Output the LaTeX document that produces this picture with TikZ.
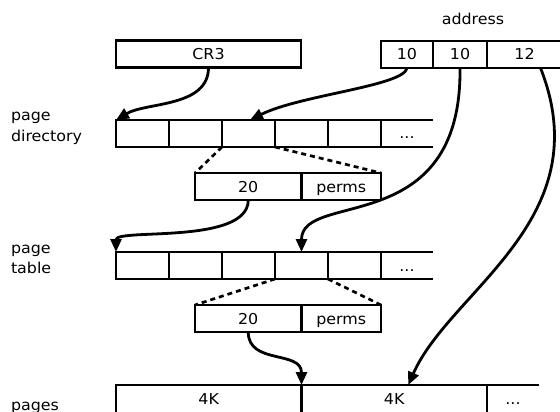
\documentclass[tikz,border=0pt]{standalone}
\usepackage{fontspec}
\setmainfont[FakeStretch=1.06]{DejaVu Sans}
\usetikzlibrary{arrows.meta}
\begin{document}
\begin{tikzpicture}[x=1pt,y=-1pt,
  font=\fontsize{15}{18}\selectfont,
  every node/.style={inner sep=0pt,outer sep=0pt},
  cell/.style={draw,line width=2.9pt,minimum width=53pt,minimum height=27pt,text height=11pt,text depth=0pt},
  opencell/.style={minimum width=52pt,minimum height=27pt,text height=11pt,text depth=0pt},
  hline/.style={line width=2.9pt},
  conn/.style={line width=2.8pt,-{Triangle[length=13pt,width=11pt]}},
  dashline/.style={line width=2.7pt,dash pattern=on 5pt off 4pt},
  lbl/.style={anchor=base west}]
\useasboundingbox (0,0) rectangle (560,412);
\clip (0,0) rectangle (560,412);
\fill[white] (0,0) rectangle (560,412);

% labels
\node (addr) at (473,19) {address};
\node[lbl] (pdl1) at (11,121) {page};
\node[lbl] (pdl2) at (11,141.5) {directory};
\node[lbl] (ptl1) at (11,253) {page};
\node[lbl] (ptl2) at (11,273.5) {table};
\node[lbl] (pgl) at (11,410.5) {pages};

% CR3 and address
\node[cell,minimum width=185pt] (cr3) at (208.5,54) {CR3};
\node[cell,minimum width=52pt] (a1) at (407,54.5) {10};
\node[cell,minimum width=54pt] (a2) at (460,54.5) {10};
\node[cell,minimum width=75pt] (a3) at (524.5,54.5) {12};

% page directory
\node[cell] (pd1) at (142.5,133.5) {};
\node[cell] (pd2) at (195.5,133.5) {};
\node[cell] (pd3) at (248.5,133.5) {};
\node[cell] (pd4) at (301.5,133.5) {};
\node[cell] (pd5) at (354.5,133.5) {};
\node[opencell] (pd6) at (407,133.5) {...};
\draw[hline] (pd5.north east) -- (pd6.north east);
\draw[hline] (pd5.south east) -- (pd6.south east);

% entry 1
\node[cell,minimum width=106.5pt] (e1a) at (248.25,186.5) {20};
\node[cell,minimum width=79.5pt] (e1b) at (341.25,186.5) {perms};
\draw[dashline] (pd3.south west) -- (e1a.north west);
\draw[dashline] (pd3.south east) -- (e1b.north east);

% page table
\node[cell] (pt1) at (142.5,265.5) {};
\node[cell] (pt2) at (195.5,265.5) {};
\node[cell] (pt3) at (248.5,265.5) {};
\node[cell] (pt4) at (301.5,265.5) {};
\node[cell] (pt5) at (354.5,265.5) {};
\node[opencell] (pt6) at (407,265.5) {...};
\draw[hline] (pt5.north east) -- (pt6.north east);
\draw[hline] (pt5.south east) -- (pt6.south east);

% entry 2
\node[cell,minimum width=106.5pt] (e2a) at (248.25,318.5) {20};
\node[cell,minimum width=79.5pt] (e2b) at (341.25,318.5) {perms};
\draw[dashline] (pt4.south west) -- (e2a.north west);
\draw[dashline] (pt4.south east) -- (e2b.north east);

% pages
\node[cell,minimum width=185.5pt,minimum height=28pt] (pg1) at (208.75,399) {4K};
\node[cell,minimum width=185.5pt,minimum height=28pt] (pg2) at (394.25,399) {4K};
\node[opencell,minimum height=28pt] (pg3) at (513,399) {...};
\draw[hline] (pg2.north east) -- (pg3.north east);
\draw[hline] (pg2.south east) -- (pg3.south east);

% connectors
\draw[conn] (cr3.south) .. controls +(0,40) and +(30,-18) .. (pd1.north west);
\draw[conn] (a1.south) .. controls +(-3,18) and +(50,-25) .. ([xshift=1.5pt]pd3.north);
\draw[conn] (a2.south) .. controls +(2,172) and +(0,-62) .. (pt4.north);
\draw[conn] ([xshift=16pt]a3.south) .. controls +(60,152) and +(42,-95) .. ([xshift=14pt]pg2.north);
\draw[conn] (e1a.south) .. controls +(0,45) and +(0,-24) .. (pt1.north west);
\draw[conn] (e2a.south) .. controls +(0,33) and +(0,-35) .. (pg1.north east);
\end{tikzpicture}
\end{document}
